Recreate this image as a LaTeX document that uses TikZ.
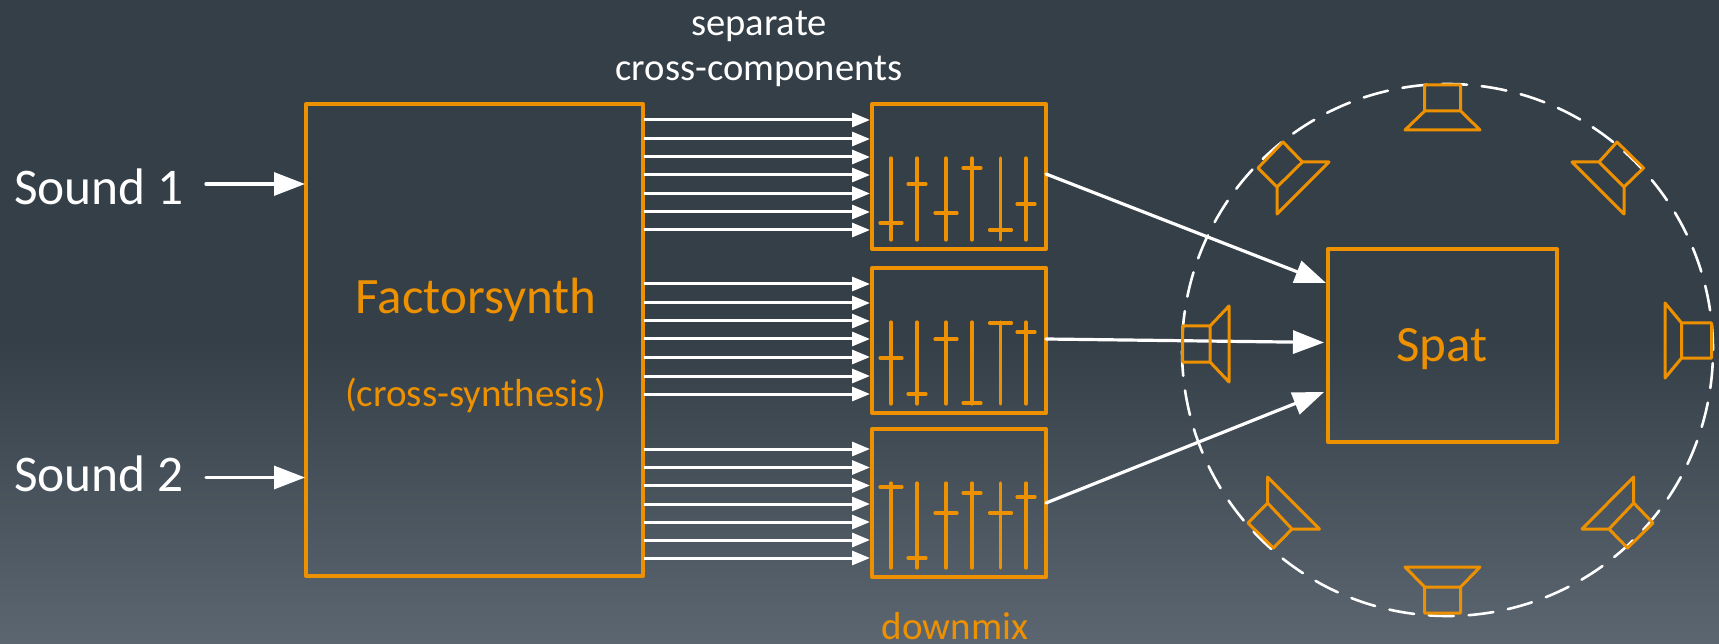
\documentclass[tikz,border=0pt]{standalone}
\usepackage{fontspec}
\setmainfont{Carlito}
\usetikzlibrary{arrows.meta}
\definecolor{bgtop}{HTML}{343F48}
\definecolor{bgbot}{HTML}{5C6670}
\definecolor{org}{HTML}{EE9100}
\tikzset{
  spk/.style={draw=org,line width=3pt,line join=round,line cap=round},
  fader/.style={draw=org,line width=3.2pt,line cap=round},
  thin arrow/.style={draw=white,line width=3pt,-{Triangle[length=18pt,width=14pt]}},
  big arrow/.style={draw=white,line width=3.2pt,line cap=round,-{Triangle[length=31pt,width=23pt]}},
  bigbox/.style={draw=org,line width=4pt,inner sep=0pt,outer sep=0pt,line join=round},
  orangetext/.style={text=org,inner sep=0pt,anchor=base,font=\fontsize{51}{51}\selectfont},
  smallorange/.style={text=org,inner sep=0pt,anchor=base,font=\fontsize{39}{39}\selectfont},
  whitetext/.style={text=white,inner sep=0pt,anchor=base west,font=\fontsize{51.4}{51.4}\selectfont},
  sidetext/.style={text=white,inner sep=0pt,anchor=base,font=\fontsize{38.6}{38.6}\selectfont},
}
\newcommand{\faders}[8]{% y1 y2 then six tick ys
  \draw[fader] (891,#1)--(891,#2) (917,#1)--(917,#2) (946,#1)--(946,#2) (972,#1)--(972,#2) (1000.5,#1)--(1000.5,#2) (1026,#1)--(1026,#2);
  \draw[fader] (880,#3)--(902,#3) (908,#4)--(926,#4) (935,#5)--(957,#5) (963,#6)--(981,#6) (989.5,#7)--(1011.5,#7) (1017,#8)--(1035,#8);
}
\begin{document}
\begin{tikzpicture}[x=1pt,y=-1pt]
\useasboundingbox (0,0) rectangle (1719,644);
\fill[bgtop] (0,0) rectangle (1719,340);
\shade[top color=bgtop,bottom color=bgbot] (0,339.5) rectangle (1719,644);

% nodes
\node[bigbox,minimum width=337pt,minimum height=472pt,anchor=north west] (fs) at (306,104) {};
\node[bigbox,minimum width=174pt,minimum height=145pt,anchor=north west] (m1) at (872,104) {};
\node[bigbox,minimum width=174pt,minimum height=145pt,anchor=north west] (m2) at (872,268) {};
\node[bigbox,minimum width=174pt,minimum height=148pt,anchor=north west] (m3) at (872,429) {};
\node[bigbox,minimum width=229pt,minimum height=193pt,anchor=north west] (spat) at (1328,249) {};

\node[orangetext] (fst) at (476,313.5) {Factorsynth};
\node[smallorange] (cs) at (475.5,406.5) {(cross-synthesis)};
\node[orangetext] (st) at (1442,362) {Spat};
\node[smallorange] (dm) at (955,639.5) {downmix};
\node[whitetext] (s1) at (14,204.5) {Sound 1};
\node[whitetext] (s2) at (14,491) {Sound 2};
\node[sidetext] (sep1) at (759,36) {separate};
\node[sidetext] (sep2) at (759,80.5) {cross-components};

\coordinate (s1a) at (206,184); \coordinate (s1b) at (305,184);
\coordinate (s2a) at (206,477.5); \coordinate (s2b) at (305,477.5);
\draw[big arrow] (s1a) -- (s1b);
\draw[big arrow] (s2a) -- (s2b);

\foreach \y in {120,139,157,175,193.5,212,230, 284,303,321,339,357,376,394, 449,467.5,485.5,504,522,540,558}
  \draw[thin arrow] (644,\y) -- (870,\y);

\faders{158}{240}{223}{184}{213}{168}{230}{204}
\faders{322}{404}{358}{394}{339}{403}{323}{332}
\faders{483}{568}{487}{558}{513}{493}{513}{497}

% circle
\draw[white,line width=2.6pt,dash pattern=on 25pt off 14.8pt,line cap=round] (1447.5,350) ellipse [x radius=265.5pt,y radius=266pt];

% output arrows
\coordinate (o1) at (1046,174); \coordinate (i1) at (1326,283);
\coordinate (o2) at (1046,339); \coordinate (i2) at (1324,342.5);
\coordinate (o3) at (1046,503); \coordinate (i3) at (1324,392);
\draw[big arrow] (o1) -- (i1);
\draw[big arrow] (o2) -- (i2);
\draw[big arrow] (o3) -- (i3);

% speakers
\draw[spk] (1424.7,85) rectangle (1460.6,111) (1424.7,111)--(1405,130)--(1480,130)--(1460.6,111);
\draw[spk] (1424.7,587) rectangle (1460.6,613) (1424.7,587)--(1405,567)--(1480,567)--(1460.6,587);
\draw[spk] (1182.7,326) rectangle (1210,362) (1210,326)--(1229,306)--(1229,382)--(1210,362);
\draw[spk] (1681.6,323) rectangle (1711.7,358) (1681.6,323)--(1665,303)--(1665,378)--(1681.6,358);
\draw[spk] (1283,142)--(1302.4,162)--(1277,187)--(1258,168)--cycle (1302.4,162)--(1329,162)--(1277,214)--(1277,187);
\draw[spk] (1617,142)--(1643.5,168)--(1624,187)--(1599,162)--cycle (1599,162)--(1572,162)--(1624,214)--(1624,187);
\draw[spk] (1267.6,503)--(1292,529)--(1273.4,548)--(1248,523)--cycle (1267.6,503)--(1267.6,477)--(1319.4,529)--(1292,529);
\draw[spk] (1633.7,503)--(1653,523)--(1627.5,548)--(1609,529)--cycle (1633.7,503)--(1633.7,477)--(1582,529)--(1609,529);
\end{tikzpicture}
\end{document}
